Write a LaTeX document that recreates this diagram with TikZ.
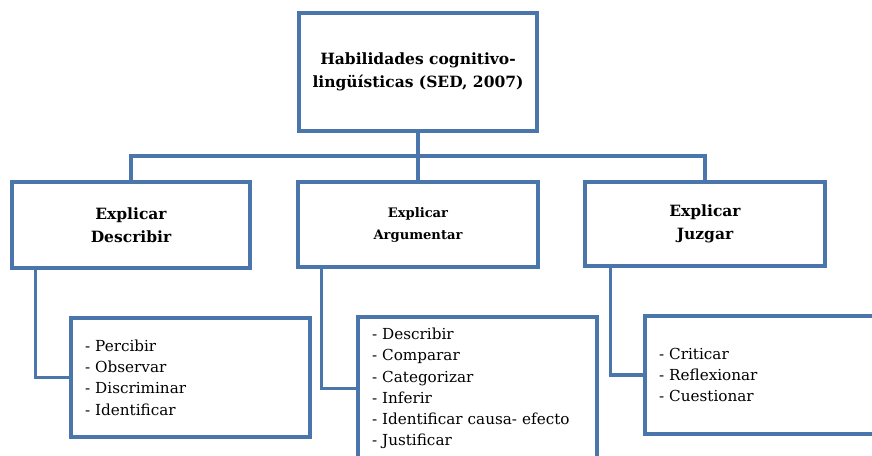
\documentclass[tikz,border=0pt]{standalone}
\usepackage{fontspec}
\setmainfont{DejaVu Serif}
\definecolor{boxblue}{RGB}{74,118,172}
\begin{document}
\begin{tikzpicture}[x=1pt,y=-1pt,
  box/.style={draw=boxblue,line width=3.3pt,fill=white,rectangle,inner sep=0pt,align=center,font=\bfseries\fontsize{15.5}{23}\selectfont},
  listbox/.style={draw=boxblue,line width=3.3pt,fill=white,rectangle,inner xsep=14pt,inner ysep=0pt,align=left,text width=211pt,font=\fontsize{15.2}{21.3}\selectfont},
  conn/.style={draw=boxblue,line width=3.3pt}]
\useasboundingbox (0,0) rectangle (872,455);
\clip (0,0) rectangle (872,455);
\fill[white] (0,0) rectangle (872,455);
\node[box,minimum width=238pt,minimum height=118pt] (top) at (418,72) {Habilidades cognitivo-\\ling\"u\'isticas (SED, 2007)};
\node[box,minimum width=238pt,minimum height=86pt] (left) at (131,225) {Explicar\\Describir};
\node[box,minimum width=240pt,minimum height=85pt,font=\bfseries\fontsize{13.1}{22}\selectfont] (mid) at (418,224.5) {Explicar\\Argumentar};
\node[box,minimum width=240pt,minimum height=84pt] (right) at (705,224) {Explicar\\Juzgar};
\node[listbox,minimum height=119pt] (llist) at (190.5,377.5) {- Percibir\\- Observar\\- Discriminar\\- Identificar};
\node[listbox,minimum height=143pt] (mlist) at (477.5,388.5) {- Describir\\- Comparar\\- Categorizar\\- Inferir\\- Identificar causa- efecto\\- Justificar};
\node[listbox,minimum height=118pt] (rlist) at (764.5,375) {- Criticar\\- Reflexionar\\- Cuestionar};
\coordinate (bar) at (418,156);
\draw[conn] (top.south) -- (mid.north);
\draw[conn] (left.north) |- (bar) -| (right.north);
\draw[conn] ([xshift=25pt]left.south west) |- (llist.west);
\draw[conn] ([xshift=25pt]mid.south west) |- (mlist.west);
\draw[conn] ([xshift=27pt]right.south west) |- (rlist.west);
\end{tikzpicture}
\end{document}
